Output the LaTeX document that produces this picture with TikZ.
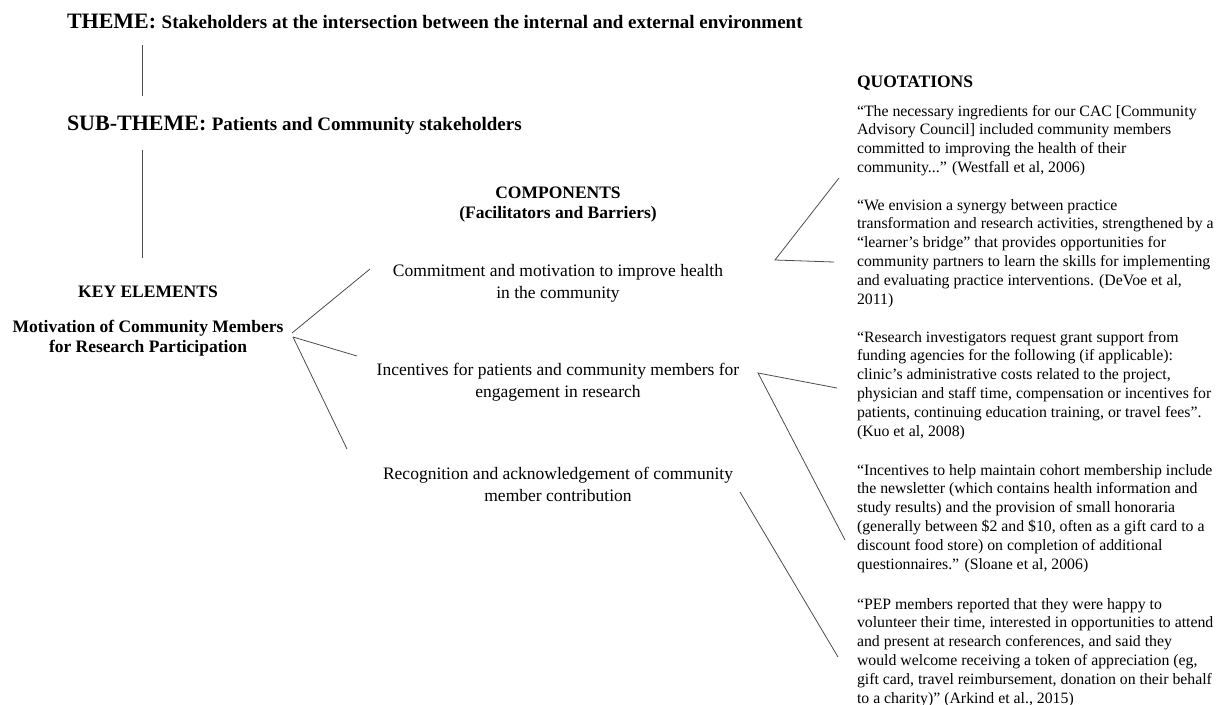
\documentclass[tikz,border=0pt]{standalone}
\usepackage{fontspec}
\setmainfont{Liberation Serif}
\newcommand\qfont{\fontsize{15.8}{18.8}\selectfont}
\newcommand\cfont{\fontsize{17.5}{22}\selectfont}
\newcommand\hfont{\bfseries\fontsize{17.5}{20.5}\selectfont}
\tikzset{
  txt/.style={inner sep=0pt, outer sep=0pt},
  link/.style={line width=0.8pt, draw=black!70},
}
\begin{document}
\begin{tikzpicture}[x=1pt, y=-1pt]
\useasboundingbox (0,0) rectangle (1217,704);
% headings
\node[txt, anchor=base west] (theme) at (67,28) {\bfseries\fontsize{22}{26}\selectfont THEME: {\fontsize{19}{23}\selectfont Stakeholders at the intersection between the internal and external environment}};
\node[txt, anchor=base west] (subtheme) at (67,130) {\bfseries\fontsize{22}{26}\selectfont SUB-THEME: {\fontsize{19}{23}\selectfont Patients and Community stakeholders}};
\node[txt, anchor=base] (keyhead) at (148,297) {\hfont KEY ELEMENTS};
\node[txt, anchor=base] (key) at (148,332) {\hfont\begin{tabular}[t]{@{}c@{}}Motivation of Community Members\\ for Research Participation\end{tabular}};
\node[txt, anchor=base] (comphead) at (558,198) {\hfont\begin{tabular}[t]{@{}c@{}}COMPONENTS\\ (Facilitators and Barriers)\end{tabular}};
\node[txt, anchor=base west] (quothead) at (857,87) {\hfont QUOTATIONS};
% components
\node[txt, anchor=base] (c1) at (558,276) {\cfont\begin{tabular}[t]{@{}c@{}}Commitment and motivation to improve health\\ in the community\end{tabular}};
\node[txt, anchor=base] (c2) at (558,375) {\cfont\begin{tabular}[t]{@{}c@{}}Incentives for patients and community members for\\ engagement in research\end{tabular}};
\node[txt, anchor=base] (c3) at (558,479) {\cfont\begin{tabular}[t]{@{}c@{}}Recognition and acknowledgement of community\\ member contribution\end{tabular}};
% quotations
\node[txt, anchor=base west] (q1) at (857,116) {\qfont\begin{tabular}[t]{@{}l@{}}“The necessary ingredients for our CAC [Community\\ Advisory Council] included community members\\ committed to improving the health of their\\ community...” (Westfall et al, 2006)\end{tabular}};
\node[txt, anchor=base west] (q2) at (857,210) {\qfont\begin{tabular}[t]{@{}l@{}}“We envision a synergy between practice\\ transformation and research activities, strengthened by a\\ “learner’s bridge” that provides opportunities for\\ community partners to learn the skills for implementing\\ and evaluating practice interventions. (DeVoe et al,\\ 2011)\end{tabular}};
\node[txt, anchor=base west] (q3) at (857,342) {\qfont\begin{tabular}[t]{@{}l@{}}“Research investigators request grant support from\\ funding agencies for the following (if applicable):\\ clinic’s administrative costs related to the project,\\ physician and staff time, compensation or incentives for\\ patients, continuing education training, or travel fees”.\\ (Kuo et al, 2008)\end{tabular}};
\node[txt, anchor=base west] (q4) at (857,475) {\qfont\begin{tabular}[t]{@{}l@{}}“Incentives to help maintain cohort membership include\\ the newsletter (which contains health information and\\ study results) and the provision of small honoraria\\ (generally between \$2 and \$10, often as a gift card to a\\ discount food store) on completion of additional\\ questionnaires.” (Sloane et al, 2006)\end{tabular}};
\node[txt, anchor=base west] (q5) at (857,609) {\qfont\begin{tabular}[t]{@{}l@{}}“PEP members reported that they were happy to\\ volunteer their time, interested in opportunities to attend\\ and present at research conferences, and said they\\ would welcome receiving a token of appreciation (eg,\\ gift card, travel reimbursement, donation on their behalf\\ to a charity)” (Arkind et al., 2015)\end{tabular}};
% connector end points
\coordinate (l1a) at (142,45);
\coordinate (l1b) at (142,96);
\coordinate (l2a) at (142,150);
\coordinate (l2b) at (142,258);
\coordinate (kv1) at (292,333);
\coordinate (kv2) at (293,337);
\coordinate (c1in) at (370,269);
\coordinate (c2in) at (357,356);
\coordinate (c3in) at (347,449);
\coordinate (c1out) at (775,260);
\coordinate (q1in) at (839,178);
\coordinate (q2in) at (834,262);
\coordinate (c2out) at (758,373);
\coordinate (q3in) at (837,388);
\coordinate (q4in) at (845,540);
\coordinate (c3out) at (740,492);
\coordinate (q5in) at (838,657);
% connectors
\draw[link] (l1a) -- (l1b);
\draw[link] (l2a) -- (l2b);
\draw[link] (c1in) -- (kv1);
\draw[link] (kv2) -- (c2in);
\draw[link] (kv2) -- (c3in);
\draw[link] (q1in) -- (c1out) -- (q2in);
\draw[link] (q3in) -- (c2out) -- (q4in);
\draw[link] (c3out) -- (q5in);
\end{tikzpicture}
\end{document}
